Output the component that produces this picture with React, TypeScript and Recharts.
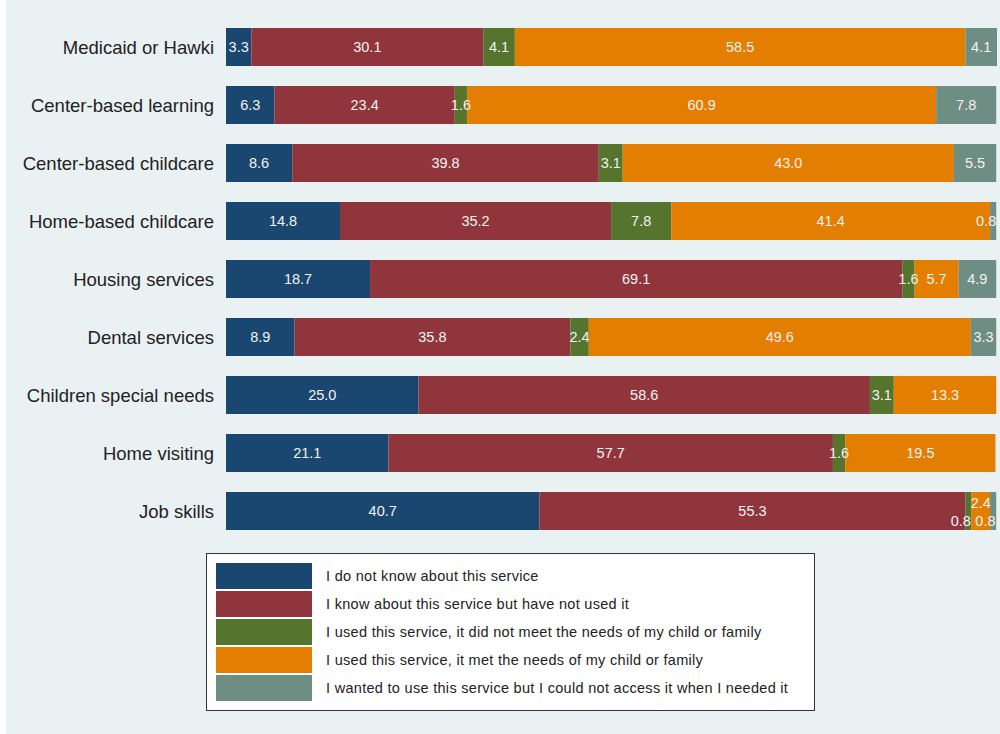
import { BarChart, Bar, XAxis, YAxis, LabelList } from "recharts";

const categories = [
  "Medicaid or Hawki",
  "Center-based learning",
  "Center-based childcare",
  "Home-based childcare",
  "Housing services",
  "Dental services",
  "Children special needs",
  "Home visiting",
  "Job skills",
];

const dontKnow = [3.3, 6.3, 8.6, 14.8, 18.7, 8.9, 25.0, 21.1, 40.7];
const knowNotUsed = [30.1, 23.4, 39.8, 35.2, 69.1, 35.8, 58.6, 57.7, 55.3];
const usedNotMet = [4.1, 1.6, 3.1, 7.8, 1.6, 2.4, 3.1, 1.6, 0.8];
const usedMet = [58.5, 60.9, 43.0, 41.4, 5.7, 49.6, 13.3, 19.5, 2.4];
const couldNotAccess = [4.1, 7.8, 5.5, 0.8, 4.9, 3.3, 0, 0, 0.8];

const seriesNames = [
  "I do not know about this service",
  "I know about this service but have not used it",
  "I used this service, it did not meet the needs of my child or family",
  "I used this service, it met the needs of my child or family",
  "I wanted to use this service but I could not access it when I needed it",
];
const seriesValues = [dontKnow, knowNotUsed, usedNotMet, usedMet, couldNotAccess];
const colors = ["#1a476f", "#90353b", "#55752f", "#e37e00", "#6e8e84"];

const data = categories.map((name, i) => {
  const row: Record<string, string | number> = { name };
  seriesValues.forEach((vals, s) => {
    row["s" + s] = vals[i];
  });
  return row;
});

const RIGHT_EDGE = 997;
const FONT = "'Liberation Sans', Arial, Helvetica, sans-serif";

function makeLabel(s: number) {
  return (props: any) => {
    const x = Number(props.x);
    const y = Number(props.y);
    const width = Number(props.width);
    const height = Number(props.height);
    const index = categories.indexOf(props.value);
    if (index < 0) return null;
    const v = seriesValues[s][index];
    if (!v) return null;
    const text = v.toFixed(1);
    const tw = text.length * 7.2;
    const prev = s > 0 ? seriesValues[s - 1][index] : 100;
    const next = s < seriesValues.length - 1 ? seriesValues[s + 1][index] : 100;
    const crowded = v < 3 && (prev < 3 || next < 3);
    let cx = x + width / 2;
    let cy = y + height / 2;
    if (crowded) {
      if (v < 1.5) {
        cx = x + width - tw / 2;
        cy += 10;
      } else {
        cy -= 8;
      }
    }
    if (cx + tw / 2 > RIGHT_EDGE) cx = RIGHT_EDGE - tw / 2;
    return (
      <text
        key={"l" + s + "-" + index}
        x={cx}
        y={cy}
        textAnchor="middle"
        dominantBaseline="central"
        fill="#f2f2f2"
        fontSize={14.5}
        fontFamily={FONT}
      >
        {text}
      </text>
    );
  };
}

export default function App() {
  return (
    <div style={{ position: "absolute", left: 0, top: 0, width: 1000, height: 734, background: "#ffffff" }}>
      <div style={{ position: "absolute", left: 6, top: 0, width: 994, height: 734, background: "#e9f1f3" }} />
      <div style={{ position: "absolute", left: 0, top: 0 }}>
        <BarChart
          width={1000}
          height={734}
          data={data}
          layout="vertical"
          margin={{ top: 18, right: 3, bottom: 194, left: 0 }}
          barCategoryGap={10}
        >
          <XAxis type="number" domain={[0, 100.1]} hide />
          <YAxis
            type="category"
            dataKey="name"
            width={226}
            axisLine={false}
            tickLine={false}
            tickSize={0}
            tickMargin={12}
            tick={{ fontSize: 18.5, fill: "#222222", fontFamily: FONT }}
          />
          {seriesNames.map((name, s) => (
            <Bar
              key={name}
              dataKey={"s" + s}
              name={name}
              stackId="a"
              fill={colors[s]}
              isAnimationActive={false}
            >
              <LabelList dataKey={(row: any) => row.name} content={makeLabel(s)} />
            </Bar>
          ))}
        </BarChart>
      </div>
      <div
        style={{
          position: "absolute",
          left: 206,
          top: 553,
          width: 609,
          height: 158,
          boxSizing: "border-box",
          background: "#ffffff",
          border: "1.5px solid #333333",
          fontFamily: FONT,
        }}
      >
        {seriesNames.map((name, s) => (
          <div
            key={name}
            style={{ position: "absolute", left: 9, top: 8.5 + s * 28, height: 26.5, display: "flex", alignItems: "center" }}
          >
            <div style={{ width: 96, height: 26.5, background: colors[s] }} />
            <span style={{ marginLeft: 14, fontSize: 14.5, letterSpacing: 0.3, color: "#222222", whiteSpace: "nowrap" }}>
              {name}
            </span>
          </div>
        ))}
      </div>
    </div>
  );
}
